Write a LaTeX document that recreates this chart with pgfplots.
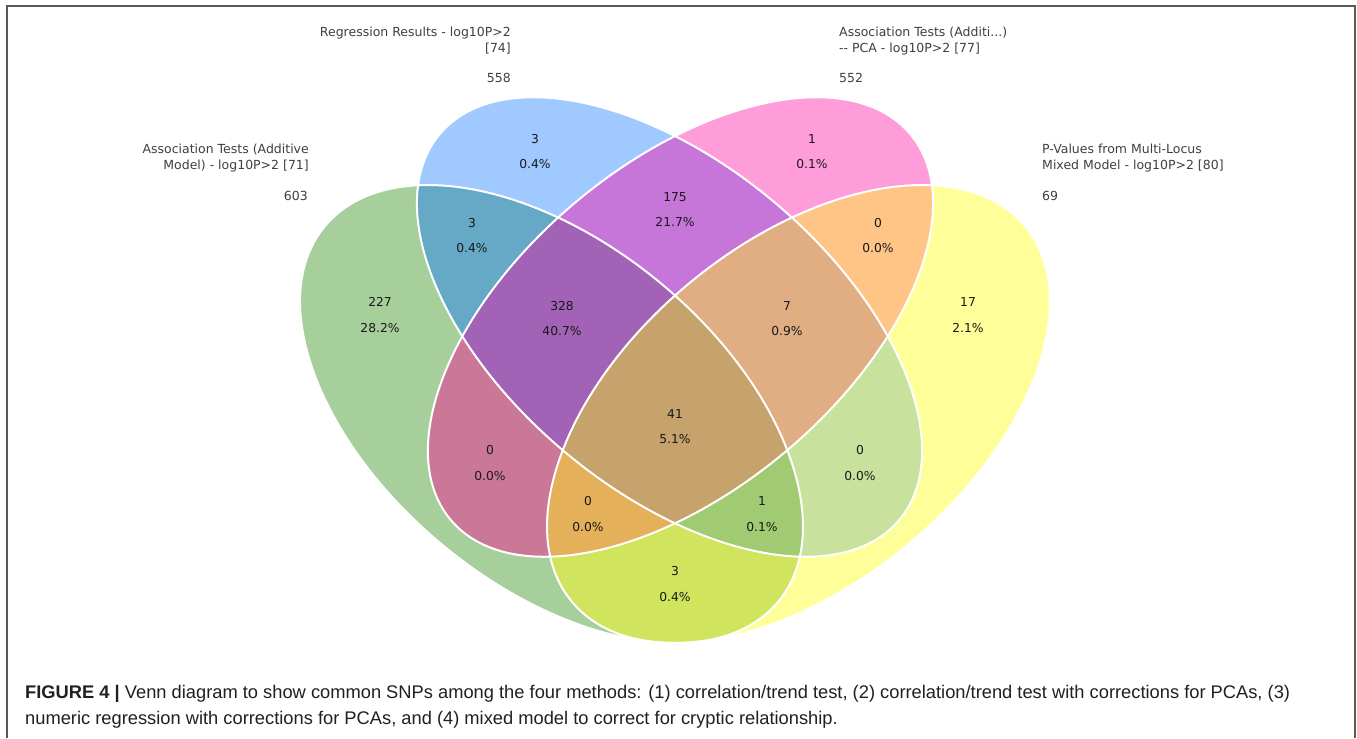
\documentclass[border=0pt]{standalone}
\usepackage{fontspec}
\setmainfont{Liberation Sans}
\newfontfamily\dejavu{DejaVu Sans}
\usepackage{pgfplots}
\pgfplotsset{compat=1.18}

\definecolor{cG}{RGB}{166,207,155}
\definecolor{cB}{RGB}{160,202,255}
\definecolor{cP}{RGB}{255,156,218}
\definecolor{cY}{RGB}{255,255,154}
\definecolor{cGB}{RGB}{101,169,199}
\definecolor{cGP}{RGB}{203,120,152}
\definecolor{cGY}{RGB}{209,228,94}
\definecolor{cBP}{RGB}{197,118,216}
\definecolor{cBY}{RGB}{200,226,158}
\definecolor{cPY}{RGB}{255,197,135}
\definecolor{cGBP}{RGB}{162,98,182}
\definecolor{cGBY}{RGB}{161,203,114}
\definecolor{cGPY}{RGB}{228,176,90}
\definecolor{cBPY}{RGB}{224,174,130}
\definecolor{cGBPY}{RGB}{198,162,108}
\definecolor{lbl}{RGB}{64,64,64}
\definecolor{num}{RGB}{25,25,25}
\definecolor{cap}{RGB}{35,31,32}

\tikzset{
  eG/.style={rotate around={-39.6:(axis cs:551.5,414)}},
  eB/.style={rotate around={-40:(axis cs:669.5,327)}},
  eP/.style={rotate around={40:(axis cs:680.5,327)}},
  eY/.style={rotate around={39.6:(axis cs:798.5,414)}},
}
\newcommand\EG[2][]{#2[#1,eG] (axis cs:551.5,414) ellipse [x radius=294.3pt, y radius=170.4pt];}
\newcommand\EB[2][]{#2[#1,eB] (axis cs:669.5,327) ellipse [x radius=300pt, y radius=163pt];}
\newcommand\EP[2][]{#2[#1,eP] (axis cs:680.5,327) ellipse [x radius=300pt, y radius=163pt];}
\newcommand\EY[2][]{#2[#1,eY] (axis cs:798.5,414) ellipse [x radius=294.3pt, y radius=170.4pt];}

\begin{document}
\begin{tikzpicture}
\begin{axis}[scale only axis, width=1357pt, height=738pt,
  xmin=0, xmax=1357, ymin=0, ymax=738, y dir=reverse,
  hide axis, clip=false]
\fill[white] (axis cs:0,0) rectangle (axis cs:1357,738);
\draw[black!65, line width=1.3pt] (axis cs:7,738) -- (axis cs:7,6) -- (axis cs:1355,6) -- (axis cs:1355,738);

% single sets
\EG[cG]{\fill}
\EB[cB]{\fill}
\EP[cP]{\fill}
\EY[cY]{\fill}
% pairs
\begin{scope}\EG{\clip}\EB[cGB]{\fill}\end{scope}
\begin{scope}\EG{\clip}\EP[cGP]{\fill}\end{scope}
\begin{scope}\EG{\clip}\EY[cGY]{\fill}\end{scope}
\begin{scope}\EB{\clip}\EP[cBP]{\fill}\end{scope}
\begin{scope}\EB{\clip}\EY[cBY]{\fill}\end{scope}
\begin{scope}\EP{\clip}\EY[cPY]{\fill}\end{scope}
% triples
\begin{scope}\EG{\clip}\EB{\clip}\EP[cGBP]{\fill}\end{scope}
\begin{scope}\EG{\clip}\EB{\clip}\EY[cGBY]{\fill}\end{scope}
\begin{scope}\EG{\clip}\EP{\clip}\EY[cGPY]{\fill}\end{scope}
\begin{scope}\EB{\clip}\EP{\clip}\EY[cBPY]{\fill}\end{scope}
% all four
\begin{scope}\EG{\clip}\EB{\clip}\EP{\clip}\EY[cGBPY]{\fill}\end{scope}
% outlines
\EG[white,line width=2pt]{\draw}
\EB[white,line width=2pt]{\draw}
\EP[white,line width=2pt]{\draw}
\EY[white,line width=2pt]{\draw}

% region counts
\addplot[only marks, mark=*, mark size=0pt, mark options={draw=none,fill=none},
  nodes near coords, point meta=explicit symbolic,
  every node near coord/.style={anchor=base, inner sep=0pt, font=\dejavu\fontsize{12.3}{14}\selectfont, text=num}]
coordinates {
 (535,143) [3] (812,143) [1] (472,227) [3] (675,201) [175] (878,227) [0]
 (380,306) [227] (562,310) [328] (787,310) [7] (968,306) [17]
 (675,418) [41] (490,454) [0] (860,454) [0] (588,505) [0] (762,505) [1] (675,575) [3]
};
% region percentages
\addplot[only marks, mark=*, mark size=0pt, mark options={draw=none,fill=none},
  nodes near coords, point meta=explicit symbolic,
  every node near coord/.style={anchor=base, inner sep=0pt, font=\dejavu\fontsize{12.3}{14}\selectfont, text=num}]
coordinates {
 (535,168) [0.4\%] (812,168) [0.1\%] (472,252) [0.4\%] (675,226) [21.7\%] (878,252) [0.0\%]
 (380,332) [28.2\%] (562,335) [40.7\%] (787,335) [0.9\%] (968,332) [2.1\%]
 (675,443) [5.1\%] (490,480) [0.0\%] (860,480) [0.0\%] (588,531) [0.0\%] (762,531) [0.1\%] (675,601) [0.4\%]
};

% set names and totals
\begin{scope}[every node/.style={inner sep=0pt, font=\dejavu\fontsize{12.5}{14}\selectfont, text=lbl}]
\node[anchor=base east] at (axis cs:511,36) {Regression Results - log10P>2};
\node[anchor=base east] at (axis cs:511,52) {[74]};
\node[anchor=base east] at (axis cs:511,82) {558};
\node[anchor=base west] at (axis cs:839,36) {Association Tests (Additi...)};
\node[anchor=base west] at (axis cs:839,52) {-{}- PCA - log10P>2 [77]};
\node[anchor=base west] at (axis cs:839,82) {552};
\node[anchor=base east] at (axis cs:309,153) {Association Tests (Additive};
\node[anchor=base east] at (axis cs:309,169) {Model) - log10P>2 [71]};
\node[anchor=base east] at (axis cs:308,200) {603};
\node[anchor=base west] at (axis cs:1042,153) {P-Values from Multi-Locus};
\node[anchor=base west] at (axis cs:1042,169) {Mixed Model - log10P>2 [80]};
\node[anchor=base west] at (axis cs:1042,200) {69};
\end{scope}

% caption
\begin{scope}[every node/.style={inner sep=0pt, font=\fontsize{18.3}{22}\selectfont, text=cap}]
\node[anchor=base west] at (axis cs:25,698) {\textbf{FIGURE 4 |} Venn diagram to show common SNPs among the four methods: (1) correlation/trend test, (2) correlation/trend test with corrections for PCAs, (3)};
\node[anchor=base west] at (axis cs:25,724) {numeric regression with corrections for PCAs, and (4) mixed model to correct for cryptic relationship.};
\end{scope}
\end{axis}
\end{tikzpicture}
\end{document}
